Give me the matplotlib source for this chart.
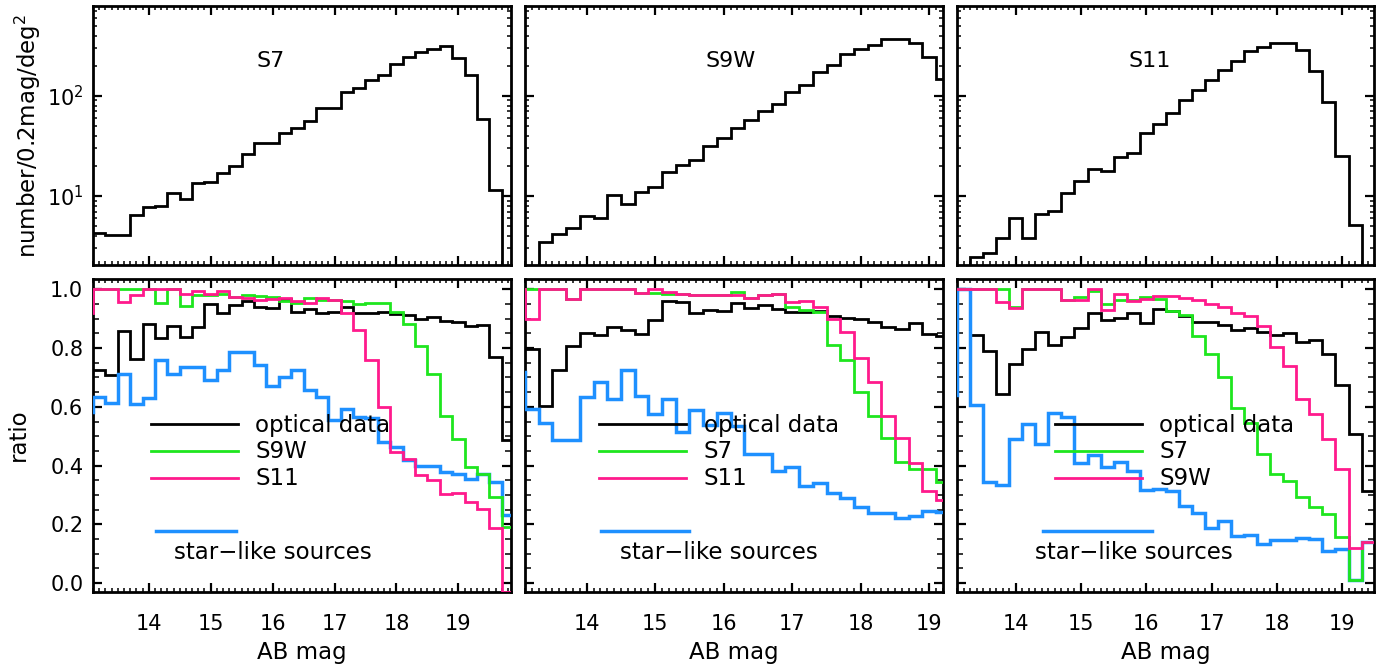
import numpy as np
import matplotlib.pyplot as plt
from matplotlib.ticker import FixedLocator, MultipleLocator, NullFormatter, FixedFormatter

plt.rcParams['font.family'] = ['DejaVu Sans']
plt.rcParams['mathtext.default'] = 'regular'
plt.rcParams['font.size'] = 15

# ---- data: 0.2 mag bins ----
# number counts (top row), first bin starts at 13.1 mag
counts_s7 = [4.25, 4.06, 4.06, 6.47, 7.8, 7.9, 10.8, 9.3, 13.4, 13.9, 16.8, 19.9, 26.6, 34, 34,
             43, 48, 56, 76, 76, 110, 121, 143, 161, 206, 245, 275, 297, 313, 241, 160, 59, 11.6, 1.0]
counts_s9w = [1.0, 3.47, 4.2, 4.79, 6.26, 6.1, 10.3, 8.38, 11.1, 12.3, 17.4, 20.3, 23.1, 31.6, 38,
              47.9, 57.1, 70.3, 83.8, 110, 128, 174, 203, 261, 297, 326, 369, 374, 339, 245, 147]
counts_s11 = [1.0, 2.45, 2.69, 3.8, 6.07, 3.8, 6.65, 7.08, 10.7, 14.3, 18.5, 17.7, 24.5, 26.9, 42.7,
              52.9, 68.1, 91.9, 114, 143, 183, 222, 280, 309, 339, 334, 286, 178, 87, 24.9, 5.09, 1.0]

# ratios (bottom row), first bin starts at 12.9 mag (partly off the axis)
s7_optical = [0.726, 0.726, 0.709, 0.858, 0.762, 0.881, 0.833, 0.875, 0.836, 0.87, 0.949, 0.921, 0.947,
              0.96, 0.941, 0.935, 0.966, 0.924, 0.932, 0.921, 0.924, 0.939, 0.918, 0.918, 0.922, 0.917,
              0.912, 0.90, 0.906, 0.891, 0.889, 0.875, 0.88, 0.77, 0.486]
s7_s9w = [1.0, 1.0, 1.0, 1.0, 1.0, 1.0, 0.955, 1.0, 0.943, 0.98, 0.98, 0.985, 0.975, 0.98, 0.978,
          0.975, 0.96, 0.955, 0.97, 0.965, 0.965, 0.96, 0.95, 0.955, 0.955, 0.923, 0.883, 0.806,
          0.711, 0.568, 0.49, 0.396, 0.371, 0.294, 0.19]
s7_s11 = [0.92, 1.0, 1.0, 0.958, 0.98, 1.0, 1.0, 1.0, 0.984, 0.995, 0.985, 0.995, 0.975, 0.97,
          0.965, 0.966, 0.97, 0.96, 0.955, 0.97, 0.965, 0.92, 0.862, 0.76, 0.601, 0.447, 0.424,
          0.367, 0.35, 0.305, 0.308, 0.277, 0.254, 0.189, -0.03]
s7_star = [0.584, 0.632, 0.612, 0.712, 0.609, 0.629, 0.76, 0.711, 0.734, 0.737, 0.692, 0.726, 0.786,
           0.786, 0.743, 0.672, 0.70, 0.726, 0.658, 0.632, 0.556, 0.592, 0.567, 0.561, 0.482, 0.464,
           0.418, 0.399, 0.399, 0.379, 0.37, 0.354, 0.373, 0.345, 0.231]

s9w_optical = [0.797, 0.797, 0.603, 0.726, 0.807, 0.85, 0.845, 0.87, 0.862, 0.847, 0.896, 0.96, 0.956,
               0.921, 0.93, 0.927, 0.952, 0.938, 0.947, 0.932, 0.922, 0.924, 0.927, 0.91, 0.901,
               0.898, 0.89, 0.873, 0.864, 0.884, 0.848, 0.841]
s9w_s7 = [1.0, 1.0, 1.0, 1.0, 0.966, 1.0, 1.0, 1.0, 1.0, 0.986, 0.986, 0.984, 0.985, 0.98, 0.98,
          0.98, 0.99, 0.97, 0.98, 0.984, 0.94, 0.93, 0.924, 0.81, 0.76, 0.649, 0.569, 0.493, 0.414,
          0.389, 0.389, 0.344]
s9w_s11 = [1.0, 0.9, 1.0, 1.0, 0.966, 1.0, 1.0, 1.0, 1.0, 0.986, 1.0, 0.99, 0.985, 0.98, 0.98,
           0.98, 0.98, 0.97, 0.98, 0.984, 0.956, 0.96, 0.94, 0.9, 0.856, 0.765, 0.686, 0.569,
           0.493, 0.41, 0.312, 0.283]
s9w_star = [0.72, 0.592, 0.544, 0.488, 0.488, 0.632, 0.683, 0.626, 0.726, 0.637, 0.575, 0.626, 0.516,
            0.59, 0.539, 0.578, 0.536, 0.439, 0.439, 0.382, 0.397, 0.329, 0.34, 0.308, 0.291,
            0.259, 0.238, 0.24, 0.221, 0.227, 0.247, 0.241]

s11_optical = [1.0, 1.0, 0.846, 0.79, 0.644, 0.746, 0.797, 0.853, 0.812, 0.838, 0.868, 0.919, 0.894,
               0.902, 0.918, 0.886, 0.932, 0.927, 0.91, 0.89, 0.887, 0.88, 0.862, 0.869, 0.855,
               0.846, 0.85, 0.821, 0.829, 0.779, 0.676, 0.506, 0.313]
s11_s7 = [1.0, 1.0, 1.0, 1.0, 1.0, 0.94, 1.0, 1.0, 1.0, 0.965, 0.974, 0.995, 0.95, 0.965, 0.965,
          0.973, 0.966, 0.927, 0.913, 0.842, 0.78, 0.70, 0.596, 0.545, 0.438, 0.373, 0.348, 0.294,
          0.26, 0.235, 0.158, 0.01, 0.14]
s11_s9w = [1.0, 1.0, 1.0, 1.0, 0.956, 0.937, 1.0, 1.0, 1.0, 0.965, 0.963, 1.0, 0.929, 0.985, 0.959,
           0.967, 0.977, 0.977, 0.972, 0.964, 0.95, 0.939, 0.921, 0.91, 0.875, 0.804, 0.739,
           0.626, 0.577, 0.492, 0.388, 0.121, 0.14]
s11_star = [0.64, 1.0, 0.607, 0.344, 0.335, 0.49, 0.54, 0.473, 0.578, 0.564, 0.41, 0.437, 0.397,
            0.414, 0.382, 0.317, 0.321, 0.312, 0.261, 0.238, 0.189, 0.21, 0.161, 0.164, 0.135,
            0.146, 0.148, 0.154, 0.149, 0.109, 0.115, 0.01, 0.14]

bands = ['S7', 'S9W', 'S11']
counts = [counts_s7, counts_s9w, counts_s11]
ratios = [(s7_optical, s7_s9w, s7_s11, s7_star),
          (s9w_optical, s9w_s7, s9w_s11, s9w_star),
          (s11_optical, s11_s7, s11_s9w, s11_star)]
legend_names = [('optical data', 'S9W', 'S11'),
                ('optical data', 'S7', 'S11'),
                ('optical data', 'S7', 'S9W')]

# ---- layout (pixels of a 1395x670 figure) ----
W, H = 1395, 670
xpix = [(93, 511), (525, 943), (957, 1374)]
top_y = (6, 265)
bot_y = (279, 592)
xmax = [19.85, 19.2, 19.49]
title_x = [0.425, 0.492, 0.463]
leg_line = [(0.139, 0.347), (0.178, 0.385), (0.235, 0.443)]
leg_text = [0.388, 0.428, 0.485]
star_line = [(0.151, 0.342), (0.183, 0.393), (0.206, 0.468)]
star_text = [0.194, 0.227, 0.187]
LABEL_SIZE = 16.5

GREEN = '#1ee61e'
PINK = '#ff1a8c'
BLUE = '#1e90ff'


def rect(x0, x1, y0, y1):
    return [x0 / W, 1 - y1 / H, (x1 - x0) / W, (y1 - y0) / H]


def style_axes(ax, xlim):
    ax.set_xlim(13.1, xlim)
    ax.xaxis.set_major_locator(MultipleLocator(1))
    ax.xaxis.set_minor_locator(MultipleLocator(0.1))
    ax.tick_params(which='both', direction='in', top=True, right=True, color='black')
    ax.tick_params(which='major', length=6.5, width=1.6)
    ax.tick_params(axis='x', which='major', pad=16)
    ax.tick_params(which='minor', length=3.2, width=1.1)
    for sp in ax.spines.values():
        sp.set_linewidth(2.0)


fig = plt.figure(figsize=(W / 100, H / 100), dpi=100)

for i in range(3):
    x0, x1 = xpix[i]

    # top: number counts
    ax = fig.add_axes(rect(x0, x1, *top_y))
    edges = np.round(13.1 + 0.2 * np.arange(len(counts[i]) + 1), 2)
    ax.stairs(counts[i], edges, baseline=None, color='black', lw=2.0, zorder=3)
    ax.set_yscale('log')
    ax.set_ylim(2.05, 790)
    style_axes(ax, xmax[i])
    ax.yaxis.set_major_locator(FixedLocator([10, 100]))
    ax.yaxis.set_minor_locator(FixedLocator([2, 3, 4, 5, 6, 7, 8, 9, 20, 30, 40, 50, 60, 70, 80, 90,
                                             200, 300, 400, 500, 600, 700]))
    ax.yaxis.set_minor_formatter(NullFormatter())
    ax.xaxis.set_major_formatter(NullFormatter())
    if i == 0:
        ax.yaxis.set_major_formatter(FixedFormatter(['$10^1$', '$10^2$']))
        ax.tick_params(axis='y', which='major', pad=7)
    else:
        ax.yaxis.set_major_formatter(NullFormatter())
    ax.text(title_x[i], 0.766, bands[i], transform=ax.transAxes, ha='center', va='baseline',
            fontsize=16)

    # bottom: ratios
    ax = fig.add_axes(rect(x0, x1, *bot_y))
    optical, green, pink, star = ratios[i]
    edges = np.round(12.9 + 0.2 * np.arange(len(optical) + 1), 2)
    ax.stairs(optical, edges, baseline=None, color='black', lw=2.0, zorder=3)
    ax.stairs(star, edges, baseline=None, color=BLUE, lw=2.5, zorder=3)
    ax.stairs(green, edges, baseline=None, color=GREEN, lw=2.0, zorder=3)
    ax.stairs(pink, edges, baseline=None, color=PINK, lw=2.0, zorder=3)
    ax.set_ylim(-0.03, 1.035)
    style_axes(ax, xmax[i])
    ax.yaxis.set_major_locator(FixedLocator([0.0, 0.2, 0.4, 0.6, 0.8, 1.0]))
    ax.yaxis.set_minor_locator(MultipleLocator(0.05))
    ax.tick_params(axis='y', which='minor', length=4)
    if i == 0:
        ax.yaxis.set_major_formatter(FixedFormatter(['0.0', '0.2', '0.4', '0.6', '0.8', '1.0']))
        ax.tick_params(axis='y', which='major', pad=7)
    else:
        ax.yaxis.set_major_formatter(NullFormatter())
    ax.text(0.5, -0.215, 'AB mag', transform=ax.transAxes, ha='center', va='baseline',
            fontsize=LABEL_SIZE)

    # hand-made legend
    lx0, lx1 = leg_line[i]
    for (ly, ty, col, name) in zip([0.537, 0.450, 0.363], [0.510, 0.427, 0.342],
                                   ['black', GREEN, PINK], legend_names[i]):
        ax.plot([lx0, lx1], [ly, ly], transform=ax.transAxes, color=col, lw=2.0, zorder=4)
        ax.text(leg_text[i], ty, name, transform=ax.transAxes, va='baseline', zorder=4,
                fontsize=LABEL_SIZE)
    sx0, sx1 = star_line[i]
    ax.plot([sx0, sx1], [0.195, 0.195], transform=ax.transAxes, color=BLUE, lw=2.5, zorder=4)
    ax.text(star_text[i], 0.104, 'star\u2212like sources', transform=ax.transAxes, va='baseline',
            fontsize=LABEL_SIZE)

fig.text(28 / W, 1 - 136 / H, 'number/0.2mag/deg$^2$', rotation=90, ha='center', va='center',
         fontsize=LABEL_SIZE)
fig.text(18 / W, 1 - 435 / H, 'ratio', rotation=90, ha='center', va='center', fontsize=LABEL_SIZE)

fig.savefig('out.png', dpi=100)
